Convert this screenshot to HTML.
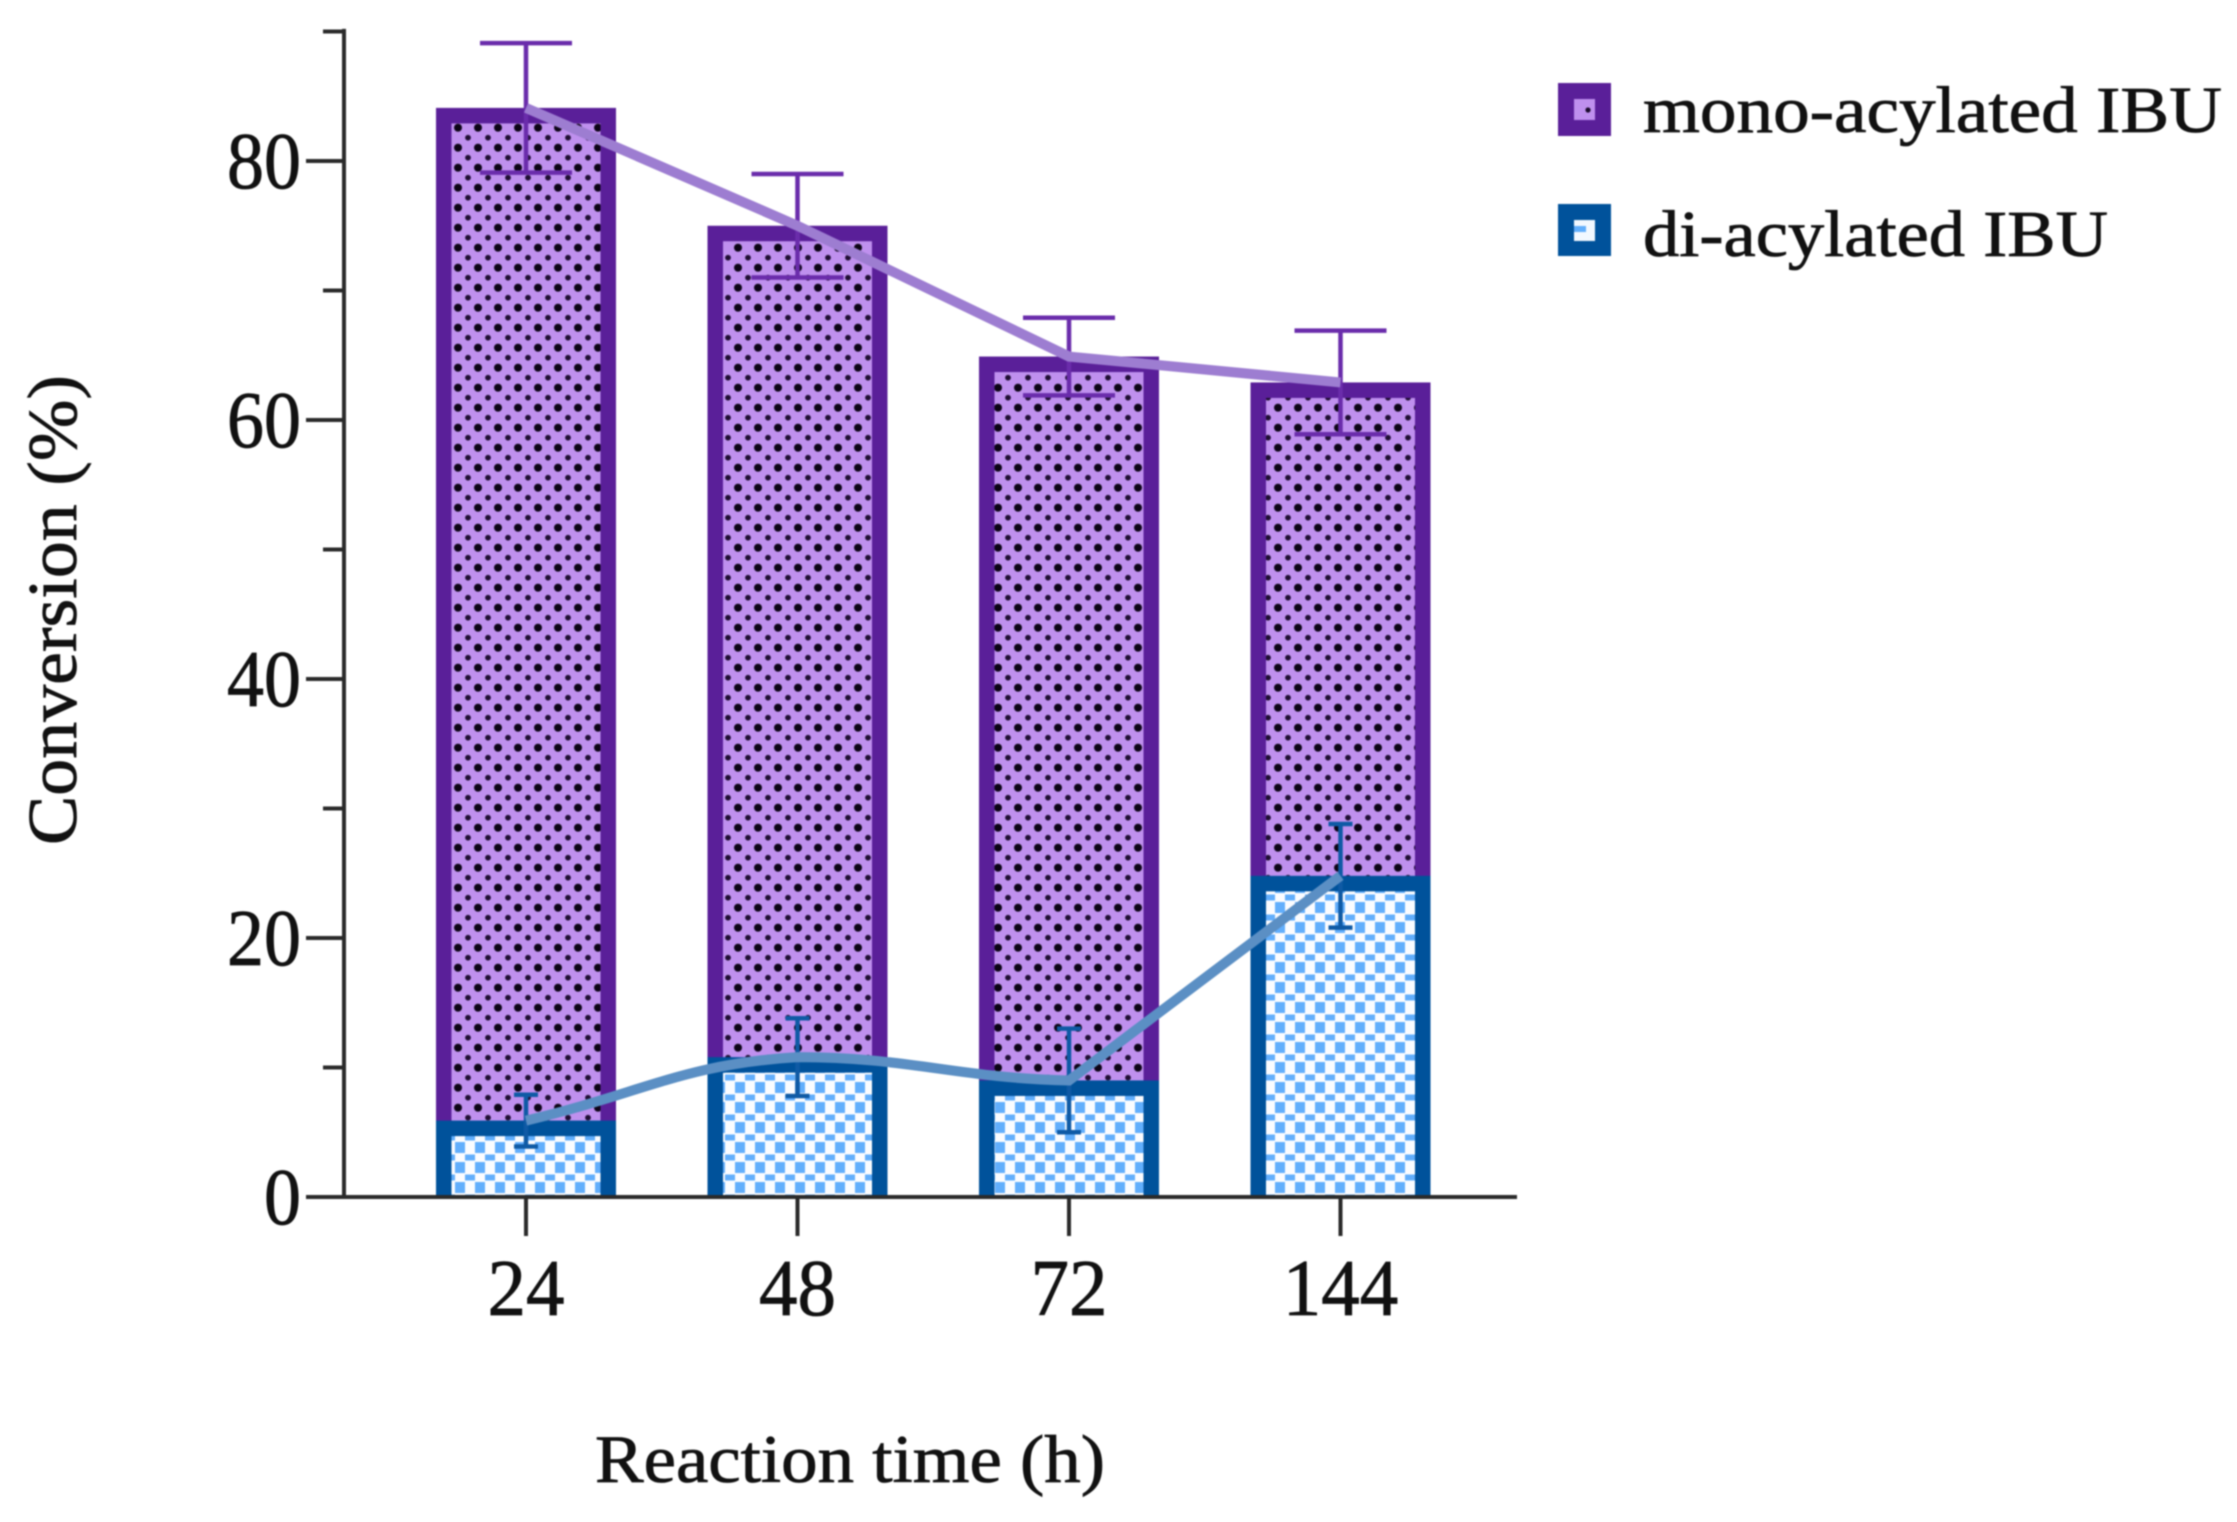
<!DOCTYPE html>
<html>
<head>
<meta charset="utf-8">
<title>Conversion vs reaction time</title>
<style>
html,body{margin:0;padding:0;background:#fff;width:2237px;height:1522px;overflow:hidden}
svg{display:block;filter:blur(.8px)}
text{font-family:"Liberation Serif",serif;fill:#111;stroke:#111;stroke-width:.8px}
</style>
</head>
<body>
<svg id="chart" xmlns="http://www.w3.org/2000/svg" width="2237" height="1522" viewBox="0 0 2237 1522">
<defs>
<pattern id="monoPat" patternUnits="userSpaceOnUse" x="458" y="127.7" width="20" height="20">
<rect width="20" height="20" fill="#bf90ee"/>
<circle cx="0" cy="0" r="4" fill="#0c0416"/><circle cx="20" cy="0" r="4" fill="#0c0416"/>
<circle cx="0" cy="20" r="4" fill="#0c0416"/><circle cx="20" cy="20" r="4" fill="#0c0416"/>
<circle cx="10" cy="10" r="2.9" fill="#1f0e33"/>
</pattern>
<pattern id="diPat" patternUnits="userSpaceOnUse" x="455" y="1142" width="20" height="20">
<rect width="20" height="20" fill="#fbfcff"/>
<rect x="0" y="0" width="10" height="11" fill="#62aefc"/>
<rect x="10" y="12.5" width="10" height="6" fill="#62aefc"/>
</pattern>
</defs>
<g id="plot"></g>
<g id="axes"></g>
<text transform="translate(76,610) rotate(-90)" text-anchor="middle" font-size="70" textLength="470" lengthAdjust="spacingAndGlyphs">Conversion (%)</text>
<text x="850" y="1482" text-anchor="middle" font-size="68" textLength="510" lengthAdjust="spacingAndGlyphs">Reaction time (h)</text>
<g>
<g>
<rect x="1558" y="83" width="53" height="53" fill="#5a1f99"/>
<rect x="1574" y="99" width="21" height="21" fill="#bf90ee"/>
<circle cx="1588" cy="110" r="2.6" fill="#1b0b2c"/>
<text x="1643" y="132" font-size="66" textLength="579" lengthAdjust="spacingAndGlyphs">mono-acylated IBU</text>
</g>
<g>
<rect x="1558" y="204" width="53" height="52" fill="#00529b"/>
<rect x="1574" y="220" width="21" height="21" fill="#f2f8ff"/>
<rect x="1574" y="226" width="12" height="6" fill="#62aefc"/>
<text x="1643" y="256" font-size="66" textLength="465" lengthAdjust="spacingAndGlyphs">di-acylated IBU</text>
</g>
</g>
</svg>
<script>
const categories = ["24", "48", "72", "144"];
const monoValues = [84.1, 75, 64.9, 62.9];
const monoErrors = [5, 4, 3, 4];
const diValues = [5.9, 10.8, 9.0, 24.8];
const diErrors = [2, 3, 4, 4];
const yMajorTicks = [0, 20, 40, 60, 80];
const yMinorTicks = [10, 30, 50, 70, 90];

const NS = "http://www.w3.org/2000/svg";
const plot = document.getElementById("plot");
const axes = document.getElementById("axes");
const Y0 = 1197, UNIT = 12.95, X0 = 526, STEP = 271.5;
const BAR_W = 180, BORDER = 15.5, AXIS = "#2a2a2a";
function y(v) { return Y0 - v * UNIT; }
function x(i) { return X0 + i * STEP; }
function mk(tag, parent, attrs) {
  const el = document.createElementNS(NS, tag);
  for (const k in attrs) el.setAttribute(k, attrs[k]);
  parent.appendChild(el);
  return el;
}
function drawBar(i, v, border, fill, name) {
  const cx = x(i), top = y(v);
  const outer = mk("rect", plot, { x: cx - BAR_W / 2, y: top, width: BAR_W, height: Y0 - top, fill: border });
  
  
  const inner = mk("rect", plot, { x: cx - BAR_W / 2 + BORDER, y: top + BORDER, width: BAR_W - 2 * BORDER, height: Math.max(0, Y0 - top - BORDER - 1), fill: fill });
  
  
}
function drawError(i, v, e, color, capW, sw, name) {
  const cx = x(i);
  const g = mk("g", plot, { stroke: color, "stroke-width": sw, fill: "none" });
  
  
  mk("line", g, { x1: cx, x2: cx, y1: y(v + e), y2: y(v - e) });
  mk("line", g, { x1: cx - capW / 2, x2: cx + capW / 2, y1: y(v + e), y2: y(v + e) });
  mk("line", g, { x1: cx - capW / 2, x2: cx + capW / 2, y1: y(v - e), y2: y(v - e) });
}
function linearPath(vals) {
  return vals.map((v, i) => (i ? "L" : "M") + x(i) + " " + y(v)).join(" ");
}
function smoothPath(vals) {
  const pts = vals.map((v, i) => [x(i), y(v)]);
  const sec = [];
  for (let i = 0; i < pts.length - 1; i++) sec.push((pts[i + 1][1] - pts[i][1]) / (pts[i + 1][0] - pts[i][0]));
  let d = "M" + pts[0][0] + " " + pts[0][1];
  for (let i = 0; i < pts.length - 1; i++) {
    const h = (pts[i + 1][0] - pts[i][0]) / 2.4;
    const prevPeak = i > 0 && sec[i - 1] < 0 && sec[i] > 0;
    const nextTurn = i < pts.length - 2 && sec[i] * sec[i + 1] < 0;
    const outT = prevPeak ? 0 : sec[i];
    const inT = nextTurn ? sec[i] * 0.25 : sec[i];
    d += " C" + (pts[i][0] + h) + " " + (pts[i][1] + outT * h) + " " + (pts[i + 1][0] - h) + " " + (pts[i + 1][1] - inT * h) + " " + pts[i + 1][0] + " " + pts[i + 1][1];
  }
  return d;
}

categories.forEach((c, i) => drawBar(i, monoValues[i], "#5a1f99", "url(#monoPat)", "mono"));
categories.forEach((c, i) => drawError(i, monoValues[i], monoErrors[i], "#6a2cab", 92, 4.5, "mono"));
categories.forEach((c, i) => drawBar(i, diValues[i], "#00529b", "url(#diPat)", "di"));
categories.forEach((c, i) => drawError(i, diValues[i], diErrors[i], "#0f5aa5", 24, 4.5, "di"));

const monoLine = mk("path", plot, { d: linearPath(monoValues), fill: "none", stroke: "#9d7dd1", "stroke-width": 10 });


const diLine = mk("path", plot, { d: smoothPath(diValues), fill: "none", stroke: "#5b8fc4", "stroke-width": 10 });



const yAxisLine = mk("line", axes, { x1: 344, x2: 344, y1: y(90.2), y2: Y0 + 2, stroke: AXIS, "stroke-width": 4 });


const xAxisLine = mk("line", axes, { x1: 344, x2: 1517, y1: Y0, y2: Y0, stroke: AXIS, "stroke-width": 4 });



yMajorTicks.forEach(t => {
  const tick = mk("line", axes, { x1: 306, x2: 344, y1: y(t), y2: y(t), stroke: AXIS, "stroke-width": 4 });
  
  
  const label = mk("text", axes, { x: 301, y: y(t) + 27, "text-anchor": "end", "font-size": 80, textLength: 37 * String(t).length, lengthAdjust: "spacingAndGlyphs" });
  
  
  label.textContent = t;
});
yMinorTicks.forEach(t => {
  const tick = mk("line", axes, { x1: 323, x2: 344, y1: y(t), y2: y(t), stroke: AXIS, "stroke-width": 4 });
  
  
});
categories.forEach((c, i) => {
  const tick = mk("line", axes, { x1: x(i), x2: x(i), y1: Y0, y2: 1236, stroke: AXIS, "stroke-width": 4 });
  
  
  const label = mk("text", axes, { x: x(i), y: 1315, "text-anchor": "middle", "font-size": 80, textLength: 38.5 * c.length, lengthAdjust: "spacingAndGlyphs" });
  
  
  label.textContent = c;
});
</script>
</body>
</html>
